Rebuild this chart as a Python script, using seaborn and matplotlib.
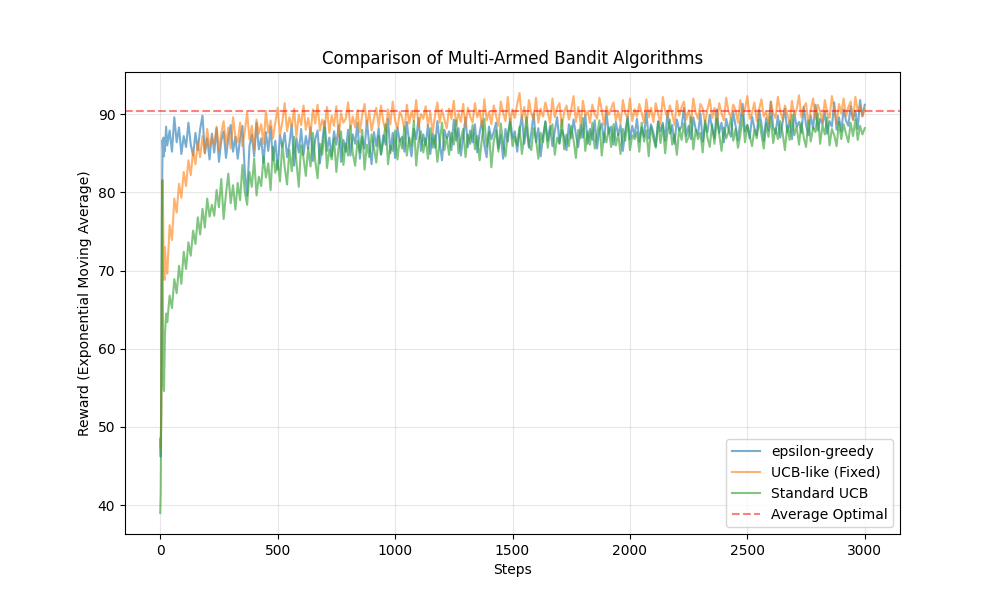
import pandas as pd
import matplotlib
matplotlib.use('Agg')
import matplotlib.pyplot as plt
import seaborn as sns

# x positions: fine at the start, then every 10 steps
steps = [0, 2, 4, 6, 8, 10, 12, 14, 16, 18, 20, 25] + list(range(30, 3001, 10))

eps_greedy = [
    48.5, 46.2, 52.0, 68.0, 80.5, 86.7, 85.1, 87.0, 84.6, 86.9, 85.3, 88.4,
    86.0, 87.9, 85.2, 89.6, 86.4, 88.3, 84.9, 87.2, 85.8, 88.9,
    86.1, 84.7, 87.6, 85.4, 88.1, 89.8, 85.0, 86.9, 84.2, 87.5,
    85.1, 88.2, 83.9, 86.6, 87.8, 84.4, 86.9, 88.6, 85.2, 87.1,
    84.3, 86.8, 88.5, 82.8, 79.6, 85.9, 87.4, 84.6, 88.9, 85.5,
    86.9, 83.8, 87.7, 85.3, 88.4, 84.1, 86.6, 82.9, 87.3, 85.8,
    87.6, 84.5, 86.2, 88.7, 83.4, 86.9, 85.1, 88.1, 84.8, 87.2,
    85.6, 88.3, 84.0, 86.8, 87.9, 83.7, 86.4, 89.1, 85.3, 87.0,
    84.6, 87.8, 86.1, 88.6, 83.9, 86.7, 85.2, 88.0, 84.7, 87.4,
    86.2, 88.9, 84.3, 87.1, 85.6, 89.2, 86.0, 83.6, 87.7, 85.9,
    88.2, 84.8, 87.3, 86.1, 89.4, 85.0, 87.6, 84.4, 88.3, 86.5,
    87.1, 85.2, 89.0, 86.4, 84.6, 88.1, 86.8, 89.5, 85.3, 87.4,
    86.0, 88.6, 84.9, 87.5, 85.7, 89.1, 86.3, 84.1, 88.0, 86.9,
    87.8, 85.4, 89.3, 86.6, 88.2, 84.7, 87.0, 89.6, 85.8, 87.9,
    86.4, 88.7, 85.1, 87.6, 89.2, 86.0, 84.5, 88.4, 86.8, 87.7,
    88.9, 85.6, 87.3, 84.3, 88.1, 86.5, 89.4, 86.9, 87.8, 85.2,
    87.9, 89.8, 86.2, 88.4, 85.7, 87.6, 90.1, 86.4, 88.2, 84.6,
    87.2, 89.0, 86.6, 88.5, 85.9, 87.8, 89.6, 86.3, 88.0, 87.1,
    85.4, 88.7, 86.9, 89.3, 87.4, 85.8, 88.6, 87.0, 89.9, 86.2,
    88.1, 86.7, 89.2, 85.6, 87.9, 88.8, 86.4, 90.3, 87.5, 88.4,
    86.1, 89.0, 87.3, 88.6, 85.3, 87.8, 89.7, 86.8, 88.5, 87.2,
    89.4, 86.5, 88.3, 87.1, 90.2, 86.9, 88.7, 87.6, 85.9, 89.1,
    87.8, 88.9, 86.6, 90.4, 87.5, 88.6, 86.2, 89.3, 87.9, 88.4,
    90.8, 87.2, 88.5, 86.8, 89.6, 88.1, 87.4, 90.1, 86.5, 88.8,
    87.7, 89.9, 88.2, 86.9, 90.6, 87.6, 88.9, 86.4, 89.4, 88.0,
    87.1, 90.2, 88.5, 86.7, 89.1, 91.3, 87.8, 88.6, 86.9, 89.7,
    88.2, 87.3, 90.5, 88.8, 86.6, 89.5, 87.9, 91.6, 88.3, 87.5,
    89.8, 87.0, 88.9, 90.7, 87.7, 89.2, 86.8, 90.1, 88.4, 89.0,
    87.6, 90.9, 88.6, 87.3, 89.8, 88.1, 91.2, 87.9, 89.4, 88.7,
    90.3, 87.5, 89.1, 88.4, 91.5, 88.0, 89.6, 87.8, 90.6, 89.2,
    88.5, 91.0, 89.3, 90.4, 88.1, 91.8, 89.7, 91.2,
]

ucb_fixed = [
    48.0, 47.2, 51.0, 62.5, 75.0, 81.6, 78.0, 72.5, 70.2, 68.8, 73.0, 70.5,
    69.6, 75.8, 73.9, 79.2, 77.4, 81.1, 79.3, 82.6, 80.8, 84.1,
    82.2, 85.3, 83.6, 86.4, 84.5, 87.2, 85.0, 88.1, 85.8, 87.0,
    86.2, 88.4, 85.3, 87.6, 89.1, 86.0, 88.3, 85.6, 89.6, 87.1,
    86.4, 88.9, 85.9, 87.8, 90.2, 86.8, 88.5, 85.4, 89.3, 87.5,
    88.7, 86.2, 90.4, 87.6, 89.2, 86.9, 88.9, 90.8, 87.3, 89.0,
    91.4, 87.8, 89.6, 88.3, 90.7, 87.1, 89.9, 88.6, 91.1, 88.0,
    89.5, 87.4, 90.6, 88.8, 91.2, 87.9, 89.3, 88.2, 90.9, 87.6,
    89.8, 88.5, 91.0, 87.2, 90.1, 88.9, 89.4, 91.5, 88.1, 89.7,
    88.3, 90.5, 87.7, 89.9, 91.3, 88.6, 90.2, 87.9, 89.5, 90.8,
    88.4, 91.1, 89.0, 87.8, 90.6, 88.7, 91.6, 89.2, 88.1, 90.3,
    89.6, 87.9, 91.2, 88.8, 90.4, 89.1, 91.8, 88.3, 90.0, 89.4,
    91.0, 88.5, 90.2, 87.6, 89.8, 91.5, 88.9, 90.6, 89.3, 88.2,
    90.7, 89.4, 91.7, 88.6, 90.1, 89.0, 91.3, 88.4, 90.8, 89.7,
    88.9, 91.4, 89.6, 90.5, 88.3, 91.9, 89.2, 90.3, 88.7, 91.1,
    89.8, 88.5, 91.6, 90.2, 89.1, 92.2, 88.8, 90.6, 89.5, 91.3,
    92.7, 89.4, 90.9, 88.6, 91.8, 90.1, 89.3, 92.1, 88.9, 90.7,
    89.7, 91.5, 90.3, 88.8, 92.0, 89.6, 90.8, 91.4, 88.4, 90.2,
    91.1, 89.3, 90.6, 92.3, 89.0, 90.9, 88.7, 91.7, 89.8, 90.4,
    88.9, 91.2, 90.0, 89.4, 92.1, 90.5, 88.6, 91.0, 89.9, 90.7,
    91.5, 89.2, 90.3, 88.8, 91.8, 90.1, 89.5, 92.0, 89.1, 90.6,
    89.7, 91.3, 90.2, 88.9, 91.9, 89.6, 90.8, 89.0, 91.4, 90.1,
    88.7, 92.2, 90.4, 89.5, 91.1, 90.0, 88.6, 91.7, 89.8, 90.9,
    91.6, 89.3, 90.5, 88.9, 92.0, 90.2, 89.4, 91.3, 90.7, 88.8,
    90.6, 91.9, 89.5, 90.8, 88.7, 91.4, 90.1, 89.2, 92.1, 90.3,
    89.6, 91.2, 90.5, 88.9, 91.8, 89.9, 90.7, 92.3, 89.4, 90.2,
    91.5, 89.1, 90.6, 91.9, 89.7, 90.3, 88.8, 91.6, 90.1, 89.5,
    92.2, 90.4, 89.3, 91.1, 90.0, 88.9, 91.7, 89.8, 90.6, 92.4,
    89.6, 90.9, 91.4, 88.7, 90.5, 92.0, 89.4, 91.2, 90.3, 89.0,
    91.8, 90.2, 89.5, 92.3, 90.6, 88.8, 91.3, 90.1, 92.0, 89.7,
    90.9, 91.6, 89.2, 92.2, 90.4, 91.1, 89.8, 90.6,
]

standard_ucb = [
    39.0, 41.5, 50.0, 66.0, 81.5, 70.0, 61.0, 55.2, 54.6, 58.5, 61.8, 64.5,
    63.4, 66.8, 65.2, 68.9, 67.1, 70.6, 68.3, 72.4, 70.2, 73.6,
    71.9, 75.1, 73.4, 76.8, 74.6, 77.9, 75.5, 79.2, 76.9, 78.4,
    77.0, 80.3, 78.1, 81.7, 76.6, 79.8, 82.4, 78.6, 80.9, 77.8,
    81.2, 79.0, 83.5, 80.1, 78.4, 82.6, 80.7, 84.3, 79.6, 82.0,
    80.8, 84.6, 81.9, 83.7, 80.3, 85.8, 82.5, 84.1, 81.4, 86.3,
    83.2, 81.0, 85.4, 82.7, 87.1, 83.9, 80.7, 86.0, 84.4, 82.1,
    85.7, 83.3, 87.6, 84.0, 81.8, 86.2, 84.8, 88.3, 83.1, 85.5,
    84.2, 86.9, 82.6, 85.9, 87.8, 83.5, 86.3, 84.7, 88.5, 85.0,
    83.4, 86.6, 85.1, 88.0, 82.9, 86.1, 84.5, 87.4, 85.7, 83.8,
    87.2, 84.9, 86.5, 88.7, 83.6, 86.0, 85.3, 87.9, 84.2, 86.8,
    85.6, 88.4, 84.7, 87.0, 85.9, 89.1, 83.4, 86.6, 87.8, 85.1,
    86.9, 84.3, 88.2, 85.7, 87.3, 83.9, 86.4, 88.9, 85.4, 87.1,
    84.8, 87.6, 86.1, 89.2, 85.0, 86.7, 88.1, 84.5, 87.4, 86.2,
    88.6, 85.5, 87.2, 84.1, 86.9, 89.4, 85.8, 87.7, 83.2, 86.5,
    87.9, 85.2, 88.8, 86.3, 84.6, 87.5, 89.0, 85.9, 87.1, 86.0,
    88.4, 84.9, 87.3, 89.6, 86.1, 85.4, 88.2, 86.8, 84.3, 87.6,
    86.4, 89.1, 85.7, 87.9, 88.7, 84.8, 87.0, 86.2, 89.3, 85.5,
    87.4, 85.9, 88.5, 86.7, 84.4, 88.0, 86.9, 89.5, 85.3, 87.8,
    86.1, 88.9, 85.6, 87.2, 89.2, 84.7, 87.6, 86.4, 88.3, 85.8,
    88.7, 86.0, 87.5, 84.9, 88.1, 86.6, 89.4, 85.4, 87.3, 86.8,
    87.7, 85.2, 88.9, 86.5, 87.9, 84.6, 88.4, 86.9, 85.7, 89.0,
    86.3, 88.6, 85.0, 87.8, 89.3, 86.1, 87.4, 84.8, 88.2, 86.7,
    88.8, 86.4, 87.1, 89.6, 85.5, 88.0, 86.8, 87.6, 85.1, 89.2,
    87.0, 85.8, 88.7, 86.2, 89.4, 87.5, 85.3, 88.3, 86.9, 87.8,
    89.5, 86.6, 88.1, 85.7, 87.3, 89.8, 86.4, 88.6, 87.2, 85.9,
    88.0, 86.9, 89.3, 87.4, 85.6, 88.8, 87.1, 89.7, 86.3, 88.2,
    86.8, 89.1, 87.6, 85.4, 88.5, 86.7, 89.9, 87.3, 88.4, 86.1,
    88.9, 87.0, 85.8, 89.2, 86.5, 88.3, 87.7, 90.1, 86.2, 88.6,
    87.4, 89.6, 86.0, 88.1, 87.3, 85.9, 89.0, 86.8, 88.7, 87.5,
    86.4, 88.9, 87.2, 89.3, 86.7, 88.5, 87.4, 88.2,
]

avg_optimal = 90.4

series = [
    ('epsilon-greedy', eps_greedy, '#1f77b4'),
    ('UCB-like (Fixed)', ucb_fixed, '#ff7f0e'),
    ('Standard UCB', standard_ucb, '#2ca02c'),
]

fig, ax = plt.subplots(figsize=(10, 6), dpi=100)

for name, vals, col in series:
    sns.lineplot(x=steps, y=vals, ax=ax, label=name, color=col,
                 alpha=0.6, linewidth=1.5, errorbar=None, sort=False)

ax.axhline(avg_optimal, color='red', linestyle='--', alpha=0.5,
           linewidth=1.5, label='Average Optimal')

ax.set_title('Comparison of Multi-Armed Bandit Algorithms')
ax.set_xlabel('Steps')
ax.set_ylabel('Reward (Exponential Moving Average)')
ax.grid(True, alpha=0.3)
ax.legend(loc='lower right')

plt.savefig('out.png', dpi=100)
